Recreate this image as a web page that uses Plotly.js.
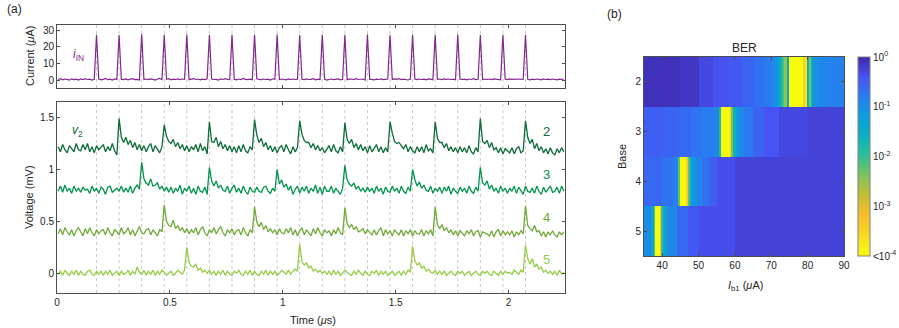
<!DOCTYPE html>
<html>
<head>
<meta charset="utf-8">
<script src="https://cdn.plot.ly/plotly-3.0.1.min.js"></script>
<style>
  body { margin: 0; background: #fff; }
  #myDiv { width: 899px; height: 328px; }
</style>
</head>
<body>
<div id="myDiv"></div>
<script>
// clock pulse times (us), one dashed line each
var clockT = [0.175, 0.275, 0.375, 0.475, 0.575, 0.675, 0.775, 0.875, 0.975, 1.075,
  1.175, 1.275, 1.375, 1.475, 1.575, 1.675, 1.775, 1.875, 1.975, 2.075];

// input current i_IN (uA), sampled every 10 ns starting at 5 ns
var iIN = [
  0.3,0.8,0.1,0.6,0.4,-0.1,0.7,0.2,0.5,0.0,
  0.6,0.2,0.8,0.3,0.5,0.0,0.4,27.2,0.6,0.1,
  0.4,0.9,0.2,0.5,0.0,0.6,0.3,27.0,0.5,0.2,
  0.7,0.1,0.5,0.8,0.2,0.4,0.0,27.4,0.3,0.6,
  0.2,0.7,0.4,0.0,0.6,0.9,0.3,27.1,0.4,0.8,
  0.1,0.5,0.3,0.7,0.2,0.6,0.4,27.3,0.2,0.5,
  0.8,0.3,0.6,0.1,0.5,0.2,0.7,27.0,0.6,0.3,
  0.4,0.0,0.6,0.3,0.8,0.4,0.2,27.2,0.5,0.1,
  0.6,0.3,0.9,0.4,0.2,0.5,0.1,27.1,0.7,0.4,
  0.2,0.6,0.3,0.5,0.0,0.7,0.4,27.3,0.3,0.6,
  0.5,0.1,0.7,0.2,0.6,0.3,0.5,27.0,0.4,0.2,
  0.7,0.3,0.4,0.8,0.1,0.5,0.3,27.2,0.6,0.0,
  0.3,0.6,0.2,0.5,0.7,0.1,0.4,27.1,0.2,0.5,
  0.6,0.2,0.8,0.3,0.4,0.6,0.0,27.3,0.5,0.3,
  0.1,0.5,0.3,0.7,0.2,0.4,0.6,27.0,0.3,0.7,
  0.4,0.8,0.2,0.5,0.3,0.0,0.5,27.2,0.6,0.2,
  0.6,0.3,0.5,0.1,0.7,0.4,0.2,27.1,0.4,0.6,
  0.2,0.7,0.4,0.6,0.3,0.5,0.1,27.3,0.5,0.3,
  0.5,0.1,0.6,0.3,0.8,0.2,0.4,27.0,0.3,0.6,
  0.3,0.6,0.2,0.7,0.4,0.5,0.1,27.2,0.6,0.2,
  0.7,0.4,0.5,0.2,0.6,0.3,0.5,27.1,0.4,0.1,
  0.5,0.2,0.6,0.4,0.1,0.7,0.3,0.5,0.2,0.6,
  0.4,0.1,0.5,0.3,0.6
];

// output voltages, in units of 10 uV (same sampling)
var v2 = [
  122,117,124,119,116,123,120,117,125,119,
  118,124,119,125,117,122,116,123,119,122,
  124,117,122,118,125,118,114,149,131,126,
  131,124,128,121,126,119,124,118,123,117,
  122,125,117,123,119,116,122,143,132,127,
  125,129,122,126,120,124,118,123,117,122,
  119,124,117,125,118,122,115,146,127,126,
  131,122,127,120,124,118,123,117,122,116,
  123,117,124,118,116,122,119,148,133,126,
  130,122,126,119,123,117,122,116,121,123,
  117,124,119,115,122,117,121,147,134,128,
  126,126,121,125,119,123,118,121,116,120,
  123,117,124,118,116,122,117,145,129,125,
  129,121,125,119,124,118,122,116,123,117,
  121,124,117,122,116,121,117,146,135,127,
  125,126,123,120,124,117,122,118,116,122,
  117,122,116,124,118,120,116,146,130,126,
  126,121,125,118,122,117,121,116,122,117,
  121,116,123,117,115,121,117,149,127,125,
  128,121,126,119,121,116,121,115,120,118,
  116,121,115,120,122,116,118,147,131,125,
  129,120,125,118,122,116,120,115,121,116,
  114,120,116,121,117
];
var v3 = [
  79,84,78,85,79,82,77,84,79,82,
  78,83,80,81,77,84,79,82,77,83,
  81,76,83,84,78,80,82,79,84,78,
  82,78,84,77,82,85,81,107,91,87,
  85,91,84,85,87,81,84,79,83,78,
  83,77,82,79,85,76,82,79,84,77,
  82,76,84,79,78,83,76,102,89,84,
  89,82,85,80,79,84,77,82,85,78,
  82,77,84,79,76,83,79,78,83,79,
  78,83,84,79,77,82,79,100,86,90,
  83,86,80,84,76,81,84,77,83,79,
  84,77,82,79,85,77,83,76,84,79,
  79,84,77,82,79,76,82,104,90,86,
  84,87,81,84,79,82,78,83,79,82,
  77,84,79,82,76,83,79,78,84,79,
  82,77,84,79,77,83,79,100,90,84,
  88,82,85,80,79,84,77,82,79,83,
  77,83,79,84,76,82,79,77,83,79,
  82,77,84,79,77,83,79,102,87,85,
  89,81,85,79,82,77,84,79,82,77,
  82,79,84,77,83,79,76,84,79,78,
  82,77,84,79,76,83,78,81,84,78,
  79,83,77,84,79
];
var v4 = [
  38,43,37,44,40,37,42,36,41,44,
  40,36,43,38,44,39,36,42,38,41,
  42,37,44,39,36,42,40,37,44,38,
  40,44,37,42,36,41,45,39,38,42,
  43,37,42,39,36,42,40,66,50,46,
  45,51,43,46,41,44,39,43,38,42,
  39,44,37,42,45,39,36,42,39,44,
  38,42,45,39,36,42,39,43,37,41,
  42,37,44,39,36,42,39,64,49,45,
  49,42,46,40,43,39,42,37,43,39,
  38,43,39,44,37,42,36,41,44,37,
  42,39,36,43,38,44,39,36,42,39,
  41,36,42,38,44,39,37,63,48,44,
  47,42,45,40,41,43,38,42,39,37,
  42,37,41,44,36,42,38,41,36,42,
  39,37,42,36,41,38,42,36,41,38,
  38,42,36,41,38,42,36,64,47,43,
  47,41,44,39,42,37,41,36,41,38,
  36,41,38,42,36,40,41,35,40,39,
  38,36,41,35,40,42,36,41,37,40,
  37,41,35,40,37,41,38,65,46,43,
  41,46,40,41,36,40,35,40,37,41,
  37,35,40,37,40
];
var v5 = [
  -1,2,-2,3,0,-2,2,-1,3,-2,
  2,-1,-2,2,3,-1,-2,2,-1,2,
  -2,2,-1,3,-2,0,2,-2,2,-1,
  0,3,-2,2,-1,6,1,-1,3,-2,
  2,-1,3,-2,2,-1,3,1,-2,0,
  2,-2,0,3,1,-1,3,25,10,7,
  6,9,3,5,1,3,0,3,-1,2,
  -2,2,-1,3,-2,2,-1,-2,2,0,
  3,-1,-2,2,-1,3,-2,2,-1,-2,
  2,-1,3,-2,2,-1,2,-2,0,3,
  1,-1,3,-1,2,4,2,28,11,8,
  10,5,7,2,4,1,3,0,2,-1,
  2,-2,3,-1,2,-2,0,3,1,-1,
  -2,2,-1,3,0,-2,2,-1,-2,2,
  0,3,-2,2,-1,2,-2,0,2,-2,
  0,2,-2,2,-1,3,1,26,12,8,
  10,5,7,2,4,1,0,3,-1,2,
  -1,2,-2,0,2,-1,-2,2,0,2,
  -2,0,2,-2,0,2,-1,-2,2,0,
  2,-1,-2,2,0,-2,2,-1,2,0,
  1,-1,3,1,-1,3,1,27,14,9,
  14,6,9,4,6,1,3,0,2,-1,
  2,-2,3,-1,1
];

// BER map: log10(BER) per base, cells bounded by the edges (uA)
var bases = [2, 3, 4, 5];
var edges2 = [35,40,45,50,54,58,62,65,68,70,71,72,73,73.5,74.2,74.8,78.8,79.3,79.8,80.3,81,81.5,83,86,90];
var ber2 = [-0.1,-0.1,-0.15,-0.3,-0.38,-0.45,-0.55,-0.68,-0.78,-0.9,-1.15,-1.6,-2.1,-2.5,-1.4,-4,-3.4,-3.7,-1.6,-2.4,-1.5,-1.05,-0.9,-0.85];
var edges3 = [35,40,44,48,51,54,55.5,56.1,58.6,59,59.5,60.3,61.2,62.5,65,68,72,80,90];
var ber3 = [-0.5,-0.55,-0.6,-0.7,-0.8,-0.9,-1.8,-4,-3.4,-2.4,-1.6,-1.2,-0.95,-0.75,-0.55,-0.4,-0.3,-0.25];
var edges4 = [35,40,43,44.4,44.9,46.5,47,47.6,48.3,49.5,51,53,55,60,90];
var ber4 = [-0.6,-0.7,-0.85,-2.2,-4,-3.4,-2.2,-1.5,-1.1,-0.9,-0.7,-0.5,-0.35,-0.25];
var edges5 = [35,37,37.7,38.1,39.4,39.8,40.3,41,42,44,47,50,60,90];
var ber5 = [-1.0,-1.4,-2.2,-4,-3.4,-2.0,-1.4,-1.1,-0.9,-0.6,-0.45,-0.35,-0.25];
var berTickVals = [0, -1, -2, -3, -4];
var berTickText = ["10<sup>0</sup>", "10<sup>-1</sup>", "10<sup>-2</sup>", "10<sup>-3</sup>", "&lt;10<sup>-4</sup>"];

var W = 899, H = 328;
function px(x) { return x / W; }
function py(y) { return 1 - y / H; }

var t = v2.map(function (_, i) { return 0.005 + 0.01 * i; });
function mV(arr) { return arr.map(function (v) { return v / 100; }); }

// one heatmap on the union of all row edges
var rows = [[edges2, ber2], [edges3, ber3], [edges4, ber4], [edges5, ber5]];
var allEdges = [];
rows.forEach(function (r) { r[0].forEach(function (e) { if (allEdges.indexOf(e) < 0) allEdges.push(e); }); });
allEdges.sort(function (a, b) { return a - b; });
var zMap = rows.map(function (r) {
  var out = [];
  for (var j = 0; j < allEdges.length - 1; j++) {
    var m = (allEdges[j] + allEdges[j + 1]) / 2;
    for (var i = 0; i < r[1].length; i++) {
      if (m >= r[0][i] && m < r[0][i + 1]) { out.push(r[1][i]); break; }
    }
  }
  return out;
});

var purple = "rgb(130,40,140)";
var greens = ["rgb(12,108,56)", "rgb(0,148,76)", "rgb(112,170,58)", "rgb(150,205,72)"];

var data = [
  { x: t, y: iIN, xaxis: "x2", yaxis: "y2", type: "scatter", mode: "lines",
    line: { color: purple, width: 1.2 }, hoverinfo: "skip" }
];
[v2, v3, v4, v5].forEach(function (v, n) {
  data.push({ x: t, y: mV(v), xaxis: "x", yaxis: "y", type: "scatter", mode: "lines",
    line: { color: greens[n], width: 1.3 }, hoverinfo: "skip" });
});
data.push({ type: "heatmap", x: allEdges, y: [1.5, 2.5, 3.5, 4.5, 5.5], z: zMap,
  xaxis: "x3", yaxis: "y3", coloraxis: "coloraxis", hoverinfo: "skip" });

var parula = [
  [0.0, "rgb(62,38,168)"], [0.1, "rgb(71,83,243)"], [0.2, "rgb(40,125,240)"],
  [0.3, "rgb(15,156,222)"], [0.4, "rgb(10,178,190)"], [0.5, "rgb(50,190,150)"],
  [0.6, "rgb(130,195,90)"], [0.7, "rgb(200,190,50)"], [0.8, "rgb(250,190,45)"],
  [0.9, "rgb(245,220,35)"], [1.0, "rgb(249,251,14)"]
];

var axLine = "#4d4d4d";
function ax(extra) {
  var a = { showline: true, linecolor: axLine, linewidth: 1, mirror: "ticks",
    ticks: "inside", ticklen: 3, tickcolor: axLine, showgrid: false, zeroline: false,
    tickfont: { size: 10, color: "#262626" }, fixedrange: true };
  for (var k in extra) a[k] = extra[k];
  return a;
}

var shapes = [];
clockT.forEach(function (c) {
  ["y domain", "y2 domain"].forEach(function (yr) {
    shapes.push({ type: "line", xref: yr === "y domain" ? "x" : "x2", yref: yr,
      x0: c, x1: c, y0: 0, y1: 1, layer: "below",
      line: { color: "rgb(200,200,200)", width: 1, dash: "3px,3px" } });
  });
});

function note(text, x, y, opts) {
  var a = { text: text, x: px(x), y: py(y), xref: "paper", yref: "paper",
    showarrow: false, xanchor: "center", yanchor: "middle",
    font: { size: 11, color: "#262626" } };
  for (var k in opts) a[k] = opts[k];
  return a;
}

var annotations = [
  note("(a)", 14, 9, { font: { size: 12, color: "#262626" } }),
  note("(b)", 614, 14, { font: { size: 12, color: "#262626" } }),
  note("BER", 744, 48, { font: { size: 12, color: "#262626" } }),
  note("Current (<i>μ</i>A)", 30, 56, { textangle: -90 }),
  note("Voltage (mV)", 29, 197, { textangle: -90 }),
  note("Time (<i>μ</i>s)", 313, 320),
  note("<i>I</i><sub>b1</sub> (<i>μ</i>A)", 745, 286),
  note("Base", 622, 157, { textangle: -90 }),
  note("<i>i</i><sub>IN</sub>", 78, 55, { font: { size: 12, color: purple } }),
  note("<i>v</i><sub>2</sub>", 77, 131, { font: { size: 12, color: greens[0] } })
];
bases.forEach(function (b, n) {
  annotations.push(note(String(b), 546, [131, 174, 217, 259][n], { font: { size: 13, color: greens[n] } }));
});

var layout = {
  width: W, height: H,
  margin: { l: 0, r: 0, t: 0, b: 0 },
  paper_bgcolor: "#fff", plot_bgcolor: "#fff",
  font: { family: "Liberation Sans, Arial, sans-serif", size: 10, color: "#262626" },
  showlegend: false,
  xaxis: ax({ domain: [px(57), px(565)], range: [0, 2.25], anchor: "y", tickvals: [0, 0.5, 1, 1.5, 2] }),
  yaxis: ax({ domain: [py(293), py(102)], range: [-0.19, 1.65], anchor: "x", tickvals: [0, 0.5, 1, 1.5] }),
  xaxis2: ax({ domain: [px(57), px(565)], range: [0, 2.25], anchor: "y2", tickvals: [0, 0.5, 1, 1.5, 2], showticklabels: false }),
  yaxis2: ax({ domain: [py(88), py(25)], range: [-4.8, 33], anchor: "x2", tickvals: [0, 10, 20, 30] }),
  xaxis3: ax({ domain: [px(644), px(844)], range: [35, 90], anchor: "y3", tickvals: [40, 50, 60, 70, 80, 90] }),
  yaxis3: ax({ domain: [py(256), py(57)], range: [5.5, 1.5], anchor: "x3", tickvals: [2, 3, 4, 5] }),
  coloraxis: {
    cmin: -4, cmax: 0, colorscale: parula, reversescale: true,
    colorbar: {
      x: px(858), xanchor: "left", y: py(256), yanchor: "bottom",
      len: (256 - 57) / H, lenmode: "fraction", thickness: 12, thicknessmode: "pixels",
      xpad: 0, ypad: 0, outlinecolor: "#808080", outlinewidth: 1,
      tickvals: berTickVals, ticktext: berTickText, ticks: "",
      tickfont: { size: 10, color: "#262626" }
    }
  },
  shapes: shapes,
  annotations: annotations
};

Plotly.newPlot("myDiv", data, layout, { displayModeBar: false, staticPlot: true });
</script>
</body>
</html>
